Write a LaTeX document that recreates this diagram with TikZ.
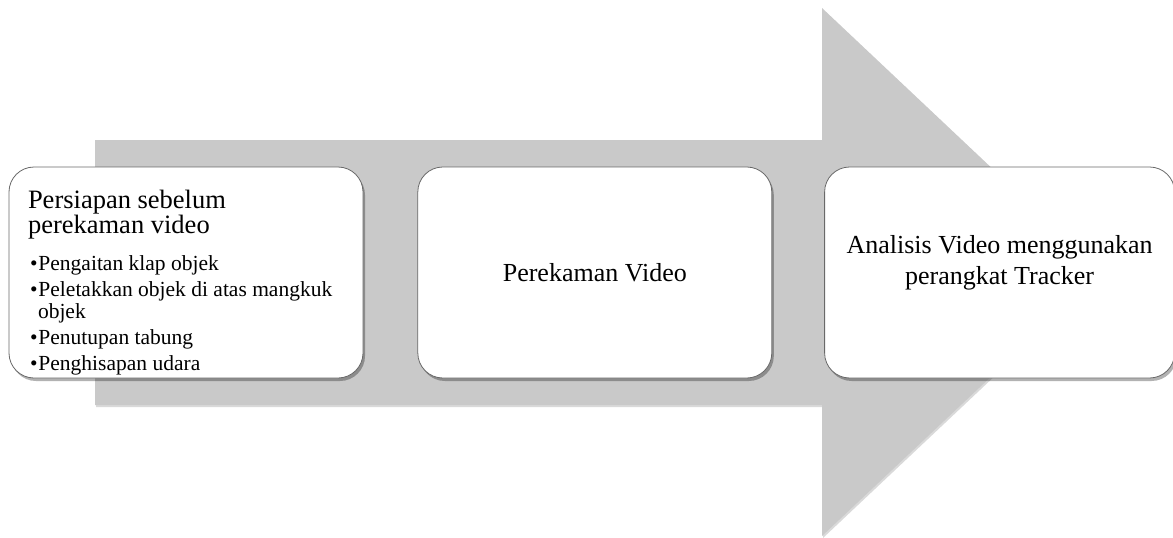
\documentclass[tikz,border=0pt]{standalone}
\usepackage{fontspec}
\setmainfont{Liberation Serif}
\usepackage{tikz}
\usetikzlibrary{shadows, positioning}
\definecolor{arrowgray}{RGB}{201,201,201}
\definecolor{boxline}{RGB}{105,105,105}
\newcommand{\butir}[1]{\par\hangindent=10pt\hangafter=1\noindent\hspace*{2pt}\makebox[8.5pt][l]{\textbullet}#1}

\begin{document}
\begin{tikzpicture}[x=1pt, y=-1pt,
    stage/.style={shape=rectangle, rounded corners=25pt, draw=boxline, line width=0.8pt, fill=white,
      minimum width=354pt, minimum height=211pt, inner sep=2pt,
      drop shadow={shadow xshift=2pt, shadow yshift=-3pt, fill=black, opacity=0.3}},
    big/.style={font=\fontsize{26}{31}\selectfont}]
    \useasboundingbox (0,0) rectangle (1173,538);
    % grey arrow behind the three steps
    \fill[arrowgray, drop shadow={shadow xshift=1pt, shadow yshift=-2pt, fill=black, opacity=0.15}]
      (95,140) -- (822,140) -- (822,8) -- (1102,272) -- (822,536) -- (822,405) -- (95,405) -- cycle;

    \node[stage, text width=316pt, align=flush left] (prep) at (186,272.5) {%
      \par\vspace*{14pt}\setlength{\parskip}{0pt}%
      {\fontsize{26.5}{25}\selectfont Persiapan sebelum\par perekaman video\par}%
      \setlength{\parskip}{4pt}\vspace{11pt}\fontsize{21.5}{22}\selectfont
      \butir{Pengaitan klap objek}
      \butir{Peletakkan objek di atas mangkuk objek}
      \butir{Penutupan tabung}
      \butir{Penghisapan udara}\par};
    \node[stage, big, right=54pt of prep] (rec) {Perekaman Video};
    \node[stage, big, minimum width=350pt, text width=330pt, align=flush center, right=52pt of rec] (track)
      {Analisis Video menggunakan\\perangkat Tracker\rule[-26pt]{0pt}{1pt}};
\end{tikzpicture}
\end{document}
